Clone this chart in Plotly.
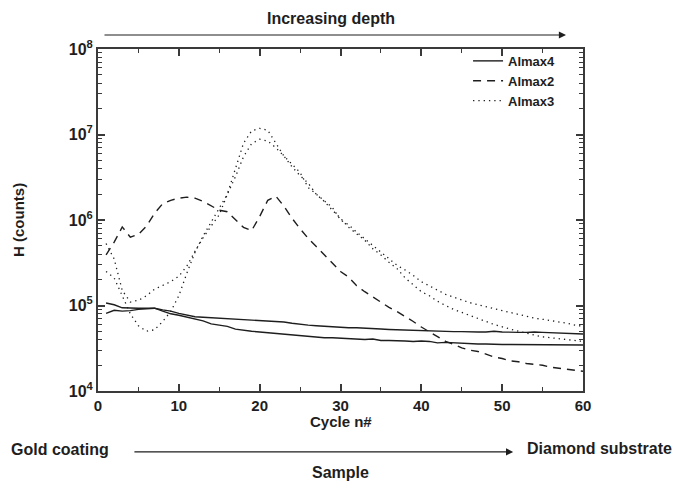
import plotly.graph_objects as go

# Cycle numbers (sputter cycles, surface -> substrate)
cycles = list(range(1, 61))

# Almax4 – two solid runs
almax4_a = [1.07e5, 1.02e5, 9.4e4, 9.3e4, 9.3e4, 9.3e4, 9.3e4, 8.9e4, 8.6e4, 8.1e4,
            7.7e4, 7.4e4, 7.3e4, 7.2e4, 7.1e4, 7.0e4, 6.9e4, 6.8e4, 6.8e4, 6.7e4,
            6.6e4, 6.5e4, 6.4e4, 6.2e4, 6.0e4, 5.9e4, 5.8e4, 5.7e4, 5.6e4, 5.6e4,
            5.5e4, 5.5e4, 5.4e4, 5.35e4, 5.3e4, 5.25e4, 5.2e4, 5.2e4, 5.15e4, 5.1e4,
            5.1e4, 5.0e4, 5.0e4, 4.95e4, 4.95e4, 4.9e4, 4.9e4, 4.9e4, 5.0e4, 4.9e4,
            4.85e4, 4.85e4, 4.85e4, 4.9e4, 4.85e4, 4.8e4, 4.75e4, 4.7e4, 4.7e4, 4.65e4]
almax4_b = [8.1e4, 8.8e4, 8.6e4, 8.7e4, 9.0e4, 9.2e4, 9.3e4, 8.6e4, 8.0e4, 7.7e4,
            7.3e4, 6.9e4, 6.6e4, 6.1e4, 5.9e4, 5.7e4, 5.3e4, 5.1e4, 5.0e4, 4.9e4,
            4.8e4, 4.7e4, 4.65e4, 4.6e4, 4.45e4, 4.4e4, 4.3e4, 4.2e4, 4.2e4, 4.15e4,
            4.1e4, 4.0e4, 4.0e4, 4.05e4, 3.9e4, 3.9e4, 3.9e4, 3.85e4, 3.8e4, 3.85e4,
            3.8e4, 3.65e4, 3.7e4, 3.65e4, 3.6e4, 3.6e4, 3.55e4, 3.55e4, 3.5e4, 3.5e4,
            3.5e4, 3.5e4, 3.5e4, 3.45e4, 3.45e4, 3.45e4, 3.5e4, 3.45e4, 3.45e4, 3.45e4]

# Almax2 – dashed
almax2 = [3.9e5, 5.5e5, 8.3e5, 6.3e5, 6.8e5, 8.5e5, 1.2e6, 1.55e6, 1.7e6, 1.8e6,
          1.85e6, 1.8e6, 1.65e6, 1.45e6, 1.3e6, 1.25e6, 1.0e6, 8.2e5, 7.5e5, 1.1e6,
          1.7e6, 1.9e6, 1.45e6, 1.05e6, 7.9e5, 6.1e5, 4.9e5, 3.9e5, 3.1e5, 2.5e5,
          2.15e5, 1.7e5, 1.45e5, 1.25e5, 1.08e5, 9.5e4, 8.5e4, 7.5e4, 6.5e4, 5.6e4,
          4.9e4, 4.3e4, 3.8e4, 3.5e4, 3.2e4, 3.0e4, 2.9e4, 2.7e4, 2.5e4, 2.4e4,
          2.25e4, 2.2e4, 2.1e4, 2.05e4, 2.0e4, 1.9e4, 1.85e4, 1.8e4, 1.75e4, 1.7e4]

# Almax3 – two dotted runs
almax3_a = [5.3e5, 3.5e5, 1.5e5, 1.1e5, 1.15e5, 1.3e5, 1.55e5, 1.7e5, 1.9e5, 2.2e5,
            2.9e5, 4.3e5, 6.2e5, 8.5e5, 1.15e6, 2.0e6, 4.0e6, 7.9e6, 1.1e7, 1.18e7,
            1.12e7, 7.8e6, 5.6e6, 4.5e6, 3.6e6, 2.4e6, 2.0e6, 1.7e6, 1.4e6, 1.0e6,
            8.8e5, 7.2e5, 6.0e5, 5.1e5, 4.2e5, 3.5e5, 2.95e5, 2.6e5, 2.25e5, 1.9e5,
            1.7e5, 1.5e5, 1.35e5, 1.25e5, 1.15e5, 1.08e5, 1.02e5, 9.7e4, 9.2e4, 8.7e4,
            8.2e4, 7.8e4, 7.4e4, 7.1e4, 6.9e4, 6.7e4, 6.4e4, 6.2e4, 5.9e4, 5.7e4]
almax3_b = [2.5e5, 2.1e5, 1.3e5, 8.0e4, 5.8e4, 5.0e4, 5.2e4, 6.5e4, 8.5e4, 1.3e5,
            2.4e5, 4.2e5, 6.5e5, 9.5e5, 1.35e6, 2.0e6, 3.2e6, 5.5e6, 7.8e6, 8.8e6,
            8.4e6, 7.0e6, 5.6e6, 4.2e6, 3.3e6, 2.7e6, 2.0e6, 1.65e6, 1.3e6, 1.05e6,
            8.2e5, 6.9e5, 5.8e5, 4.6e5, 3.9e5, 3.2e5, 2.7e5, 2.1e5, 1.75e5, 1.45e5,
            1.3e5, 1.12e5, 1.0e5, 9.0e4, 8.3e4, 7.6e4, 7.0e4, 6.5e4, 6.0e4, 5.6e4,
            5.3e4, 5.0e4, 4.7e4, 4.5e4, 4.3e4, 4.2e4, 4.1e4, 4.0e4, 3.85e4, 3.8e4]

x_ticks = [0, 10, 20, 30, 40, 50, 60]
y_ticks = [1e4, 1e5, 1e6, 1e7, 1e8]
y_ticktext = ["<b>10<sup>4</sup></b>", "<b>10<sup>5</sup></b>", "<b>10<sup>6</sup></b>",
              "<b>10<sup>7</sup></b>", "<b>10<sup>8</sup></b>"]
y_minor = [m * 10 ** e for e in range(4, 8) for m in range(2, 10)]

INK = "#1e1e1e"
AXIS = "#3a3a3a"
FONT = "Liberation Sans"

fig = go.Figure()
fig.add_trace(go.Scatter(x=cycles, y=almax4_a, mode="lines", name="Almax4",
                         legendgroup="a4", line=dict(color=INK, width=1.4)))
fig.add_trace(go.Scatter(x=cycles, y=almax4_b, mode="lines", name="Almax4",
                         legendgroup="a4", showlegend=False,
                         line=dict(color=INK, width=1.4)))
fig.add_trace(go.Scatter(x=cycles, y=almax2, mode="lines", name="Almax2",
                         line=dict(color=INK, width=1.4, dash="8px,6px")))
fig.add_trace(go.Scatter(x=cycles, y=almax3_a, mode="lines", name="Almax3",
                         legendgroup="a3", line=dict(color=INK, width=1.3, dash="1.3px,4px")))
fig.add_trace(go.Scatter(x=cycles, y=almax3_b, mode="lines", name="Almax3",
                         legendgroup="a3", showlegend=False,
                         line=dict(color=INK, width=1.3, dash="1.3px,4px")))

fig.update_xaxes(
    range=[0, 60], tickvals=x_ticks, ticks="inside", ticklen=7, tickwidth=1.5,
    tickcolor=AXIS, showline=True, linewidth=2, linecolor=AXIS, mirror="ticks",
    showgrid=False, zeroline=False,
    tickfont=dict(family=FONT, size=15, color=INK, weight="bold"),
    minor=dict(tickvals=[5, 15, 25, 35, 45, 55], ticks="inside", ticklen=4,
               tickwidth=1.2, tickcolor=AXIS, showgrid=False),
)
fig.update_yaxes(
    type="log", range=[4, 8], tickvals=y_ticks, ticktext=y_ticktext,
    ticks="inside", ticklen=7, tickwidth=1.5, tickcolor=AXIS,
    showline=True, linewidth=2, linecolor=AXIS, mirror="ticks",
    showgrid=False, zeroline=False,
    tickfont=dict(family=FONT, size=16, color=INK),
    minor=dict(tickvals=y_minor, ticks="inside", ticklen=4, tickwidth=1.2,
               tickcolor=AXIS, showgrid=False),
)

annotations = [
    dict(text="<b>Increasing depth</b>", x=0.48, y=1.088, font=dict(size=16)),
    dict(text="<b>Cycle n#</b>", x=0.501, y=-0.088, font=dict(size=15)),
    dict(text="<b>H (counts)</b>", x=-0.165, y=0.5, textangle=-90, font=dict(size=15)),
    dict(text="<b>Gold coating</b>", x=-0.078, y=-0.172, font=dict(size=16)),
    dict(text="<b>Diamond substrate</b>", x=0.880, y=-0.167, xanchor="left",
         font=dict(size=16)),
    dict(text="<b>Sample</b>", x=0.499, y=-0.237, font=dict(size=16)),
]
for a in annotations:
    a.update(xref="paper", yref="paper", showarrow=False)
    a.setdefault("xanchor", "center")
    a["yanchor"] = "middle"
    a["font"].update(family=FONT, color=INK)

# Direction arrows above the plot and along the sample
arrows = [
    dict(x0=0.0103, x1=0.965, y=1.041),
    dict(x0=0.072, x1=0.856, y=-0.178),
]
for ar in arrows:
    annotations.append(dict(
        xref="x domain", yref="y domain", axref="x domain", ayref="y domain",
        x=ar["x1"], y=ar["y"], ax=ar["x0"], ay=ar["y"], text="",
        showarrow=True, arrowhead=2, arrowsize=1.3, arrowwidth=1.1,
        arrowcolor=INK, standoff=0, startstandoff=0,
    ))

fig.update_layout(
    width=676, height=486,
    margin=dict(l=98, r=93, t=49, b=95),
    plot_bgcolor="white", paper_bgcolor="white",
    font=dict(family=FONT, color=INK),
    annotations=annotations,
    legend=dict(x=0.763, y=1.009, xanchor="left", yanchor="top",
                bgcolor="rgba(0,0,0,0)", borderwidth=0, tracegroupgap=0,
                itemwidth=30, font=dict(family=FONT, size=13, color=INK, weight="bold")),
)

fig.write_html("out.html")
